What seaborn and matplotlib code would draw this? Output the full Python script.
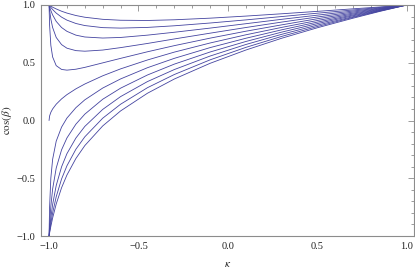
import matplotlib
matplotlib.use("Agg")
import matplotlib.pyplot as plt
from matplotlib.ticker import MultipleLocator, FuncFormatter
import seaborn as sns
import pandas as pd

# kappa sample points (dense near -1 where the curves turn sharply)
kappa = [-1.0, -0.997, -0.99, -0.98, -0.96, -0.93, -0.9, -0.85, -0.8, -0.7,
         -0.6, -0.45, -0.3, -0.1, 0.1, 0.3, 0.5, 0.7, 0.85, 1.0]

# upper family: start at cos(beta)=1
c05 = [1.0, 0.997, 0.990, 0.981, 0.966, 0.946, 0.930, 0.909, 0.894, 0.876,
       0.868, 0.866, 0.872, 0.886, 0.904, 0.924, 0.945, 0.967, 0.983, 1.0]
c06 = [1.0, 0.993, 0.979, 0.961, 0.930, 0.895, 0.869, 0.840, 0.822, 0.804,
       0.800, 0.806, 0.820, 0.844, 0.871, 0.900, 0.929, 0.957, 0.979, 1.0]
c07 = [1.0, 0.984, 0.952, 0.914, 0.858, 0.805, 0.772, 0.739, 0.723, 0.714,
       0.719, 0.739, 0.764, 0.800, 0.838, 0.876, 0.912, 0.948, 0.974, 1.0]
c08 = [1.0, 0.956, 0.879, 0.805, 0.719, 0.657, 0.626, 0.605, 0.600, 0.610,
       0.631, 0.667, 0.706, 0.756, 0.805, 0.852, 0.896, 0.939, 0.970, 1.0]
c09 = [1.0, 0.827, 0.651, 0.550, 0.475, 0.442, 0.436, 0.444, 0.460, 0.499,
       0.538, 0.595, 0.648, 0.713, 0.773, 0.828, 0.881, 0.930, 0.966, 1.0]
# middle curve: starts at 0
c10 = [0.0, 0.039, 0.071, 0.100, 0.141, 0.187, 0.224, 0.274, 0.316, 0.387,
       0.447, 0.524, 0.592, 0.671, 0.742, 0.806, 0.866, 0.922, 0.962, 1.0]
# lower family: start at -1
c11 = [-1.0, -0.751, -0.498, -0.336, -0.179, -0.057, 0.021, 0.111, 0.179, 0.281,
       0.360, 0.457, 0.538, 0.631, 0.712, 0.785, 0.852, 0.914, 0.958, 1.0]
c12 = [-1.0, -0.904, -0.743, -0.593, -0.412, -0.254, -0.151, -0.032, 0.055, 0.184,
       0.280, 0.394, 0.488, 0.593, 0.684, 0.765, 0.839, 0.907, 0.954, 1.0]
c13 = [-1.0, -0.947, -0.843, -0.727, -0.563, -0.401, -0.287, -0.152, -0.051, 0.096,
       0.207, 0.337, 0.441, 0.558, 0.658, 0.746, 0.826, 0.899, 0.951, 1.0]
c14 = [-1.0, -0.964, -0.890, -0.800, -0.660, -0.506, -0.392, -0.249, -0.141, 0.020,
       0.141, 0.284, 0.398, 0.525, 0.633, 0.728, 0.814, 0.893, 0.948, 1.0]
c15 = [-1.0, -0.974, -0.917, -0.844, -0.723, -0.582, -0.472, -0.329, -0.217, -0.047,
       0.083, 0.236, 0.359, 0.495, 0.610, 0.712, 0.803, 0.886, 0.945, 1.0]

curves = {"c05": c05, "c06": c06, "c07": c07, "c08": c08, "c09": c09, "c10": c10,
          "c11": c11, "c12": c12, "c13": c13, "c14": c14, "c15": c15}

df = pd.concat(
    [pd.DataFrame({"kappa": kappa, "cosb": v, "curve": k}) for k, v in curves.items()],
    ignore_index=True,
)

sns.set_theme(style="white")
plt.rcParams["font.family"] = ["Liberation Serif", "DejaVu Serif"]
plt.rcParams["mathtext.fontset"] = "stix"

line_color = "#4444a0"
frame_color = "#8c8c8c"

fig = plt.figure(figsize=(4.15, 2.70), dpi=100)
ax = fig.add_axes([41 / 415, 34 / 270, 373 / 415, 231 / 270])

sns.lineplot(data=df, x="kappa", y="cosb", units="curve", estimator=None,
             color=line_color, lw=0.6, ax=ax, legend=False)

ax.set_xlim(-1.045, 1.04)
ax.set_ylim(-1, 1)
ax.xaxis.set_major_locator(MultipleLocator(0.5))
ax.xaxis.set_minor_locator(MultipleLocator(0.1))
ax.yaxis.set_major_locator(MultipleLocator(0.5))
ax.yaxis.set_minor_locator(MultipleLocator(0.1))
fmt = FuncFormatter(lambda v, _: f"{v:.1f}".replace("-", "\u2212"))
ax.xaxis.set_major_formatter(fmt)
ax.yaxis.set_major_formatter(fmt)

ax.tick_params(which="both", direction="in", top=True, right=True,
               color=frame_color, width=0.6, labelsize=7.5, labelcolor="#222222")
ax.tick_params(which="major", length=4, pad=4)
ax.tick_params(which="minor", length=2)
for sp in ax.spines.values():
    sp.set_color(frame_color)
    sp.set_linewidth(0.8)

ax.set_xlabel(r"$\kappa$", fontsize=8, labelpad=7)
ax.set_ylabel(r"$\cos(\beta)$", fontsize=8, labelpad=2)

fig.savefig("out.png", dpi=100)
